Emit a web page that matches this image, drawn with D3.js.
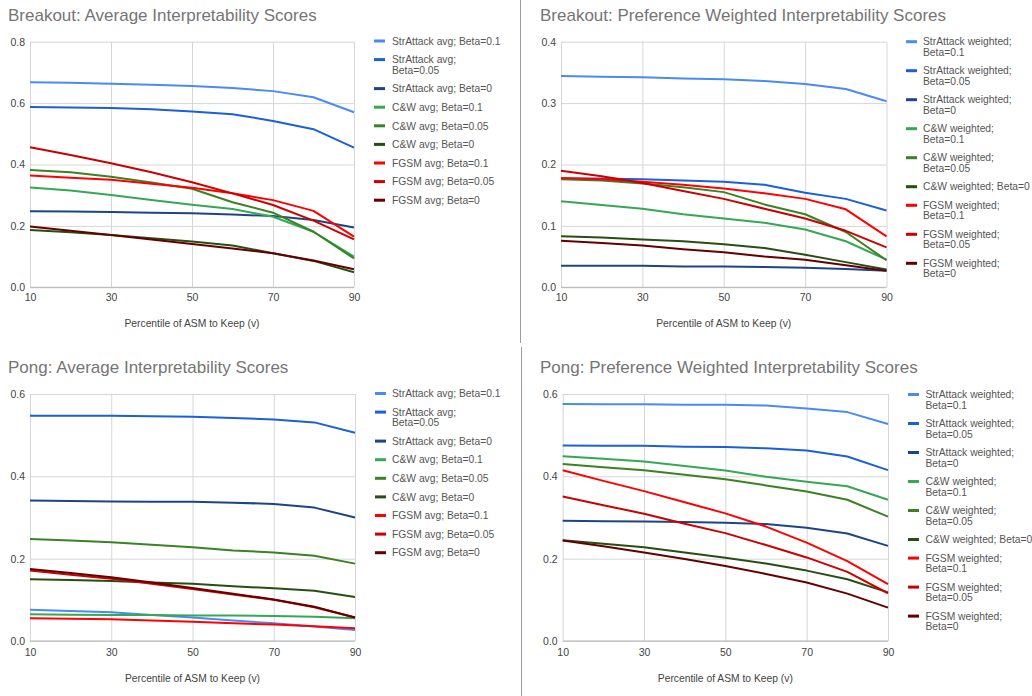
<!DOCTYPE html>
<html>
<head>
<meta charset="utf-8">
<script src="https://cdn.jsdelivr.net/npm/d3@7"></script>
<style>
  html, body { margin: 0; padding: 0; background: #fff; }
  svg { display: block; font-family: "Liberation Sans", Arial, sans-serif; }
</style>
</head>
<body>
<svg id="chart" width="1032" height="696"></svg>
<script>
// ---------------- DATA ----------------
const percentiles = [10, 20, 30, 40, 50, 60, 70, 80, 90];
const xTickValues = [10, 30, 50, 70, 90];

const titles = [
  "Breakout: Average Interpretability Scores",
  "Breakout: Preference Weighted Interpretability Scores",
  "Pong: Average Interpretability Scores",
  "Pong: Preference Weighted Interpretability Scores"
];
const xAxisTitle = "Percentile of ASM to Keep (v)";

const avgLabels = [
  "StrAttack avg; Beta=0.1",
  "StrAttack avg;\nBeta=0.05",
  "StrAttack avg; Beta=0",
  "C&W avg; Beta=0.1",
  "C&W avg; Beta=0.05",
  "C&W avg; Beta=0",
  "FGSM avg; Beta=0.1",
  "FGSM avg; Beta=0.05",
  "FGSM avg; Beta=0"
];
const weightedLabels = [
  "StrAttack weighted;\nBeta=0.1",
  "StrAttack weighted;\nBeta=0.05",
  "StrAttack weighted;\nBeta=0",
  "C&W weighted;\nBeta=0.1",
  "C&W weighted;\nBeta=0.05",
  "C&W weighted; Beta=0",
  "FGSM weighted;\nBeta=0.1",
  "FGSM weighted;\nBeta=0.05",
  "FGSM weighted;\nBeta=0"
];

const seriesColors = ["#4a8af4", "#1b5fd9", "#1c4587", "#34a853", "#3a8224", "#274e13", "#ff0000", "#cc0000", "#660000"];

const breakoutAvgTicks = [0, 0.2, 0.4, 0.6, 0.8];
const breakoutWeightedTicks = [0, 0.1, 0.2, 0.3, 0.4];
const pongAvgTicks = [0, 0.2, 0.4, 0.6];
const pongWeightedTicks = [0, 0.2, 0.4, 0.6];

// series order: StrAttack 0.1, 0.05, 0; C&W 0.1, 0.05, 0; FGSM 0.1, 0.05, 0
const breakoutAvg = [
  [0.668, 0.666, 0.663, 0.660, 0.656, 0.649, 0.639, 0.619, 0.570],
  [0.587, 0.586, 0.584, 0.580, 0.573, 0.564, 0.542, 0.515, 0.455],
  [0.248, 0.247, 0.245, 0.243, 0.241, 0.237, 0.232, 0.219, 0.195],
  [0.325, 0.315, 0.301, 0.284, 0.269, 0.255, 0.230, 0.181, 0.100],
  [0.382, 0.375, 0.360, 0.341, 0.321, 0.277, 0.243, 0.181, 0.094],
  [0.187, 0.179, 0.170, 0.160, 0.149, 0.136, 0.111, 0.086, 0.049],
  [0.364, 0.357, 0.350, 0.337, 0.324, 0.306, 0.284, 0.249, 0.165],
  [0.456, 0.431, 0.404, 0.375, 0.342, 0.306, 0.268, 0.217, 0.156],
  [0.198, 0.184, 0.170, 0.156, 0.141, 0.126, 0.111, 0.087, 0.059]
];
const breakoutWeighted = [
  [0.344, 0.343, 0.342, 0.340, 0.339, 0.336, 0.331, 0.323, 0.303],
  [0.177, 0.177, 0.176, 0.174, 0.172, 0.167, 0.154, 0.144, 0.125],
  [0.035, 0.035, 0.035, 0.034, 0.034, 0.033, 0.032, 0.030, 0.027],
  [0.140, 0.134, 0.128, 0.119, 0.112, 0.105, 0.094, 0.075, 0.045],
  [0.176, 0.174, 0.169, 0.163, 0.155, 0.135, 0.119, 0.090, 0.044],
  [0.083, 0.081, 0.078, 0.075, 0.070, 0.064, 0.053, 0.041, 0.029],
  [0.178, 0.176, 0.172, 0.167, 0.161, 0.153, 0.144, 0.127, 0.083],
  [0.190, 0.181, 0.170, 0.157, 0.144, 0.128, 0.112, 0.092, 0.065],
  [0.076, 0.072, 0.068, 0.062, 0.057, 0.050, 0.045, 0.036, 0.027]
];
const pongAvg = [
  [0.076, 0.073, 0.070, 0.063, 0.057, 0.050, 0.043, 0.035, 0.027],
  [0.547, 0.547, 0.547, 0.546, 0.545, 0.542, 0.538, 0.531, 0.506],
  [0.341, 0.340, 0.339, 0.338, 0.338, 0.336, 0.333, 0.324, 0.300],
  [0.065, 0.064, 0.063, 0.063, 0.062, 0.062, 0.061, 0.059, 0.055],
  [0.248, 0.244, 0.240, 0.234, 0.228, 0.220, 0.215, 0.207, 0.188],
  [0.150, 0.148, 0.146, 0.142, 0.139, 0.133, 0.128, 0.122, 0.107],
  [0.055, 0.054, 0.053, 0.050, 0.047, 0.043, 0.040, 0.036, 0.031],
  [0.171, 0.161, 0.151, 0.139, 0.126, 0.113, 0.100, 0.082, 0.057],
  [0.175, 0.165, 0.155, 0.142, 0.129, 0.115, 0.101, 0.083, 0.057]
];
const pongWeighted = [
  [0.576, 0.575, 0.575, 0.574, 0.574, 0.572, 0.565, 0.556, 0.527],
  [0.475, 0.474, 0.474, 0.472, 0.471, 0.468, 0.463, 0.448, 0.415],
  [0.292, 0.291, 0.290, 0.289, 0.287, 0.284, 0.275, 0.261, 0.231],
  [0.449, 0.443, 0.436, 0.425, 0.414, 0.399, 0.387, 0.376, 0.343],
  [0.430, 0.422, 0.415, 0.404, 0.393, 0.378, 0.363, 0.343, 0.302],
  [0.245, 0.236, 0.228, 0.215, 0.202, 0.188, 0.171, 0.150, 0.118],
  [0.415, 0.389, 0.364, 0.337, 0.310, 0.278, 0.239, 0.194, 0.138],
  [0.351, 0.330, 0.309, 0.285, 0.262, 0.233, 0.203, 0.168, 0.116],
  [0.244, 0.230, 0.215, 0.199, 0.182, 0.163, 0.142, 0.115, 0.081]
];

// ---------------- LAYOUT ----------------
const panels = [
  { title: titles[0], values: breakoutAvg, ticks: breakoutAvgTicks, labels: avgLabels,
    titleX: 8, titleY: 21, plot: { x0: 30, x1: 354, y0: 41.7, y1: 287.3 },
    legend: { sx: 374, tx: 392, y: 41 }, xTickY: 301, xTitleY: 327 },
  { title: titles[1], values: breakoutWeighted, ticks: breakoutWeightedTicks, labels: weightedLabels,
    titleX: 540, titleY: 21, plot: { x0: 561, x1: 886.5, y0: 41.7, y1: 287.3 },
    legend: { sx: 906, tx: 923, y: 41.7 }, xTickY: 301.5, xTitleY: 327 },
  { title: titles[2], values: pongAvg, ticks: pongAvgTicks, labels: avgLabels,
    titleX: 8, titleY: 372.5, plot: { x0: 30, x1: 355, y0: 394, y1: 641 },
    legend: { sx: 375, tx: 392, y: 393.5 }, xTickY: 655.5, xTitleY: 681.5 },
  { title: titles[3], values: pongWeighted, ticks: pongWeightedTicks, labels: weightedLabels,
    titleX: 540, titleY: 372.5, plot: { x0: 562.7, x1: 888, y0: 394, y1: 641 },
    legend: { sx: 908, tx: 925.5, y: 394.5 }, xTickY: 655.5, xTitleY: 681.5 }
];

const svg = d3.select("#chart");
svg.append("rect").attr("width", 1032).attr("height", 696).attr("fill", "#fff");

// panel dividers
svg.append("line").attr("x1", 520.5).attr("x2", 520.5).attr("y1", 0).attr("y2", 343)
  .attr("stroke", "#9e9e9e").attr("stroke-width", 1);
svg.append("line").attr("x1", 521.5).attr("x2", 521.5).attr("y1", 347).attr("y2", 696)
  .attr("stroke", "#9e9e9e").attr("stroke-width", 1);

panels.forEach(p => {
  const g = svg.append("g");
  const x = d3.scaleLinear().domain([10, 90]).range([p.plot.x0, p.plot.x1]);
  const yMax = p.ticks[p.ticks.length - 1];
  const y = d3.scaleLinear().domain([0, yMax]).range([p.plot.y1, p.plot.y0]);
  const pw = p.plot.x1 - p.plot.x0, ph = p.plot.y1 - p.plot.y0;

  // title
  g.append("text").attr("x", p.titleX).attr("y", p.titleY)
    .attr("font-size", 17).attr("fill", "#757575").text(p.title);

  // horizontal gridlines + y labels
  const yAxis = g.append("g").attr("transform", `translate(${p.plot.x0},0)`)
    .call(d3.axisLeft(y).tickValues(p.ticks).tickFormat(d3.format(".1f"))
      .tickSize(-pw).tickPadding(5));
  yAxis.select(".domain").remove();
  yAxis.selectAll("line").attr("stroke", "#d6d6d6");
  yAxis.selectAll("text").attr("font-size", 10.5).attr("fill", "#444")
    .attr("font-family", "Liberation Sans, Arial, sans-serif");

  // vertical gridlines + x labels
  const xAxis = g.append("g").attr("transform", `translate(0,${p.plot.y1})`)
    .call(d3.axisBottom(x).tickValues(xTickValues).tickFormat(d3.format("d"))
      .tickSize(-ph).tickPadding(0));
  xAxis.select(".domain").remove();
  xAxis.selectAll("line").attr("stroke", "#d6d6d6");
  xAxis.selectAll("text").attr("font-size", 10.5).attr("fill", "#444")
    .attr("font-family", "Liberation Sans, Arial, sans-serif")
    .attr("dy", null).attr("y", p.xTickY - p.plot.y1);

  // baseline
  g.append("line").attr("x1", p.plot.x0).attr("x2", p.plot.x1)
    .attr("y1", y(0)).attr("y2", y(0)).attr("stroke", "#b5b5b5");

  // x axis title
  g.append("text").attr("x", (p.plot.x0 + p.plot.x1) / 2).attr("y", p.xTitleY)
    .attr("text-anchor", "middle").attr("font-size", 10.3).attr("fill", "#444")
    .text(xAxisTitle);

  // lines
  const line = d3.line().x((d, i) => x(percentiles[i])).y(d => y(d));
  g.append("g").selectAll("path").data(p.values).join("path")
    .attr("d", d => line(d))
    .attr("fill", "none")
    .attr("stroke", (d, i) => seriesColors[i])
    .attr("stroke-width", 2)
    .attr("stroke-linejoin", "round");

  // legend
  const lineH = 10.4, gap = 8.2;
  let cy = p.legend.y;
  const lg = g.append("g");
  p.labels.forEach((lab, i) => {
    const parts = lab.split("\n");
    lg.append("rect").attr("x", p.legend.sx).attr("y", cy - 1.5)
      .attr("width", 11).attr("height", 3).attr("fill", seriesColors[i]);
    const t = lg.append("text").attr("font-size", 10.3).attr("fill", "#555");
    parts.forEach((s, j) => {
      t.append("tspan").attr("x", p.legend.tx).attr("y", cy + j * lineH + 3.7).text(s);
    });
    cy += parts.length * lineH + gap;
  });
});
</script>
</body>
</html>
